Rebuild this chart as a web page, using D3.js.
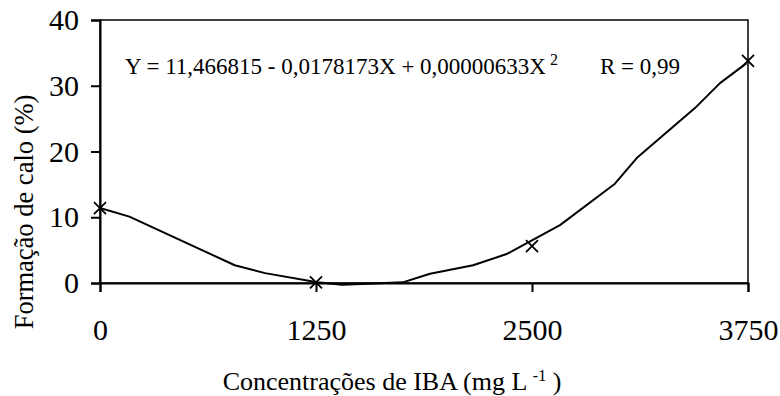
<!DOCTYPE html>
<html>
<head>
<meta charset="utf-8">
<script src="https://cdn.jsdelivr.net/npm/d3@7"></script>
<style>
  body { margin: 0; background: #fff; font-family: 'Liberation Serif'; }
  #chart text { font-family: 'Liberation Serif'; }
</style>
</head>
<body>
<div id="chart"></div>
<script>
// observed points (IBA concentration, callus formation %)
var doses = [0, 1250, 2500, 3750];
var calo = [11.4, 0.1, 5.6, 33.8];

// fitted curve
var fitX = [0, 170, 780, 955, 1257, 1400, 1550, 1752, 1910, 2159, 2353, 2662, 2980, 3106, 3443, 3588, 3740];
var fitY = [11.4, 10.1, 2.7, 1.5, 0.1, -0.25, -0.1, 0.1, 1.4, 2.7, 4.4, 8.8, 15.1, 19.0, 26.6, 30.4, 33.4];

var xTicks = [0, 1250, 2500, 3750];
var yTicks = [0, 10, 20, 30, 40];

var serif = "'Liberation Serif'";

var width = 780, height = 396;
var margin = { top: 20, right: 32, bottom: 113, left: 100 };
var innerW = width - margin.left - margin.right;
var innerH = height - margin.top - margin.bottom;

var svg = d3.select("#chart").append("svg")
    .attr("width", width)
    .attr("height", height)
    .style("display", "block");

var g = svg.append("g")
    .attr("transform", `translate(${margin.left}, ${margin.top})`);

var x = d3.scaleLinear().domain([0, 3750]).range([0, innerW]);
var y = d3.scaleLinear().domain([0, 40]).range([innerH, 0]);

// frame
g.append("rect")
    .attr("x", 0).attr("y", 0)
    .attr("width", innerW).attr("height", innerH)
    .attr("fill", "none")
    .attr("stroke", "#000")
    .attr("stroke-width", 1.5);

// axes
var xAxis = g.append("g")
    .attr("transform", `translate(0, ${innerH})`)
    .call(d3.axisBottom(x).tickValues(xTicks).tickSize(9).tickPadding(27).tickFormat(d3.format("d")));

var yAxis = g.append("g")
    .call(d3.axisLeft(y).tickValues(yTicks).tickSize(9).tickPadding(12));

[xAxis, yAxis].forEach(function (ax) {
    ax.attr("font-family", serif).attr("font-size", 30);
    ax.select(".domain").attr("stroke", "#000").attr("stroke-width", 2);
    ax.selectAll("line").attr("stroke", "#000").attr("stroke-width", 2);
});

// fitted line
var line = d3.line()
    .x((d, i) => x(fitX[i]))
    .y(d => y(d));

g.append("path")
    .datum(fitY)
    .attr("fill", "none")
    .attr("stroke", "#000")
    .attr("stroke-width", 2)
    .attr("stroke-linejoin", "round")
    .attr("d", line);

// x markers
var s = 6;
g.selectAll(".mark")
    .data(calo)
    .enter().append("path")
    .attr("class", "mark")
    .attr("transform", (d, i) => `translate(${x(doses[i])}, ${y(d)})`)
    .attr("d", `M${-s},${-s}L${s},${s}M${-s},${s}L${s},${-s}`)
    .attr("stroke", "#000")
    .attr("stroke-width", 1.8)
    .attr("fill", "none");

// equation
var eq = g.append("text")
    .attr("x", 25)
    .attr("y", 54)
    .attr("font-size", 23);
eq.append("tspan").text("Y = 11,466815 - 0,0178173X + 0,00000633X");
eq.append("tspan").attr("dy", -9).attr("font-size", 16).text(" 2");

g.append("text")
    .attr("x", 500)
    .attr("y", 54)
    .attr("font-size", 23)
    .text("R = 0,99");

// axis labels
var xt = svg.append("text")
    .attr("x", 392)
    .attr("y", 390)
    .attr("text-anchor", "middle")
    .attr("font-size", 26);
xt.append("tspan").text("Concentrações de IBA (mg L ");
xt.append("tspan").attr("dy", -9).attr("font-size", 16).text("-1");
xt.append("tspan").attr("dy", 9).text(" )");

svg.append("text")
    .attr("transform", "rotate(-90)")
    .attr("x", -212)
    .attr("y", 33)
    .attr("text-anchor", "middle")
    .attr("font-size", 26.5)
    .text("Formação de calo (%)");

svg.selectAll("text").attr("fill", "#000");
</script>
</body>
</html>
